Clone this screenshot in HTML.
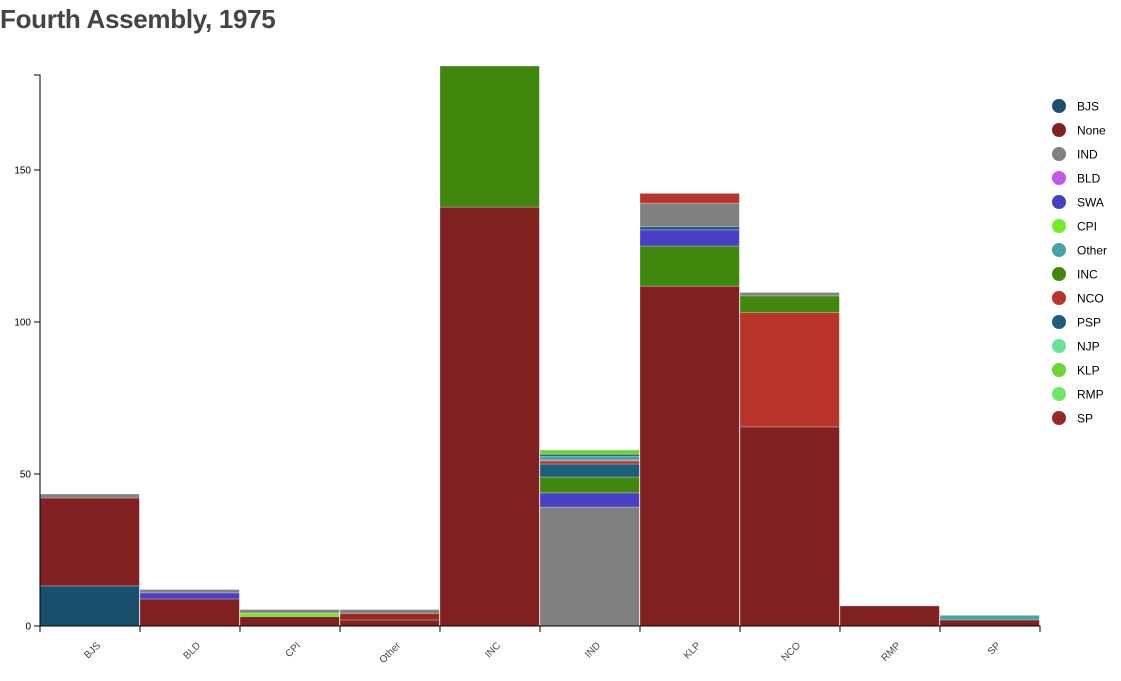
<!DOCTYPE html>
<html><head><meta charset="utf-8"><style>
body{margin:0;background:#fff;font-family:"Liberation Sans",sans-serif}
#title{position:absolute;left:0;top:4px;font-size:26px;font-weight:bold;color:#444;letter-spacing:-0.3px}
</style></head><body>
<div id="title">Fourth Assembly, 1975</div>
<svg id="chart" width="1121" height="676"></svg>
<script>
const categories=["BJS","BLD","CPI","Other","INC","IND","KLP","NCO","RMP","SP"];
const parties=["BJS","None","IND","BLD","SWA","CPI","Other","INC","NCO","PSP","NJP","KLP","RMP","SP"];
const colors=["#1a4f6e","#822121","#808080","#c158e8","#4740c4","#72ec2a","#46a3a6","#41860d","#b8332a","#1f5d7d","#6ce19a","#6cd632","#6ce867","#962a22"];
// stacks per category: [party, value] bottom to top
const stackParties=[
["BJS","None","IND"],
["None","SWA","IND"],
["None","CPI","IND"],
["None","SP","IND"],
["None","INC"],
["IND","SWA","INC","PSP","NCO","IND","Other","BJS","KLP"],
["None","INC","SWA","PSP","IND","NCO"],
["None","NCO","INC","IND"],
["None"],
["None","Other"]];
const stackValues=[
[13.2,28.9,1.3],
[8.9,2.0,1.1],
[3.1,1.2,1.1],
[2.0,2.1,1.3],
[137.8,46.4],
[39.1,4.7,5.2,4.3,1.0,0.3,1.3,0.6,1.4],
[111.8,13.2,5.3,1.1,7.7,3.2],
[65.5,37.6,5.5,1.1],
[6.6],
[2.0,1.5]];
const yTicks=[0,50,100,150];
const svg=document.getElementById('chart');const NS="http://www.w3.org/2000/svg";
const x0=40,bw=100,y0=626,ppu=3.04;
const X=i=>x0+i*bw, Y=v=>y0-v*ppu;
function mk(t,a){const e=document.createElementNS(NS,t);for(const k in a)e.setAttribute(k,a[k]);svg.appendChild(e);return e;}
categories.forEach((c,i)=>{let acc=0;stackParties[i].forEach((p,j)=>{const v=stackValues[i][j];
const r=mk('rect',{x:X(i),y:Y(acc+v),width:bw,height:v*ppu,fill:colors[parties.indexOf(p)],stroke:'#fff','stroke-width':1,'stroke-opacity':0.25});


acc+=v;});
const sep=mk('line',{x1:X(i)+bw,x2:X(i)+bw,y1:Y(acc)-1,y2:y0,stroke:'#fff','stroke-width':1.5});


});
// axes
const ya=mk('path',{d:`M34,75H40V${y0}H34`,fill:'none',stroke:'#000'});


yTicks.forEach(t=>{const l=mk('line',{x1:34,x2:40,y1:Y(t),y2:Y(t),stroke:'#000'});


const tx=mk('text',{x:31,y:Y(t)+3.5,'text-anchor':'end','font-size':10,fill:'#000'});tx.textContent=t;

});
const xa=mk('path',{d:`M${x0},632V${y0}H${x0+10*bw}V632`,fill:'none',stroke:'#000'});


categories.forEach((c,i)=>{const l=mk('line',{x1:X(i),x2:X(i),y1:y0,y2:632,stroke:'#000'});


const cx=X(i)+bw/2+11,cy=646;
const tx=mk('text',{x:cx,y:cy,'text-anchor':'end','font-size':10,fill:'#444',transform:`rotate(-45 ${cx} ${cy})`});tx.textContent=c;

});
// legend
parties.forEach((p,i)=>{const y=106+i*24;
const c=mk('circle',{cx:1059,cy:y,r:7,fill:colors[i]});


const t=mk('text',{x:1077,y:y+4.5,'font-size':12,fill:'#000'});t.textContent=p;

});
</script>
</body></html>
